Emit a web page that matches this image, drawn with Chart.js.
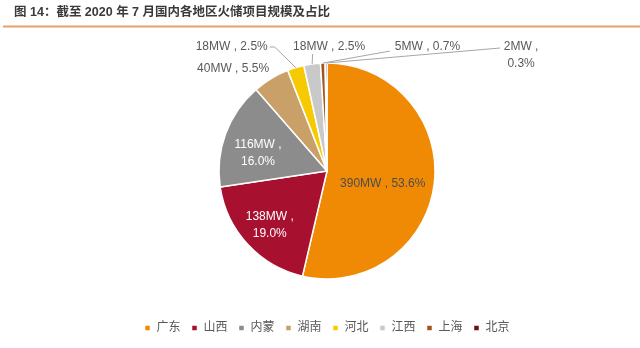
<!DOCTYPE html>
<html>
<head>
<meta charset="utf-8">
<script src="https://cdn.jsdelivr.net/npm/chart.js@4/dist/chart.umd.min.js"></script>
<style>
  html, body { margin: 0; padding: 0; background: #ffffff; }
  canvas { display: block; }
</style>
</head>
<body>
<canvas id="chart" width="640" height="348"></canvas>
<script>
// Thermal-storage projects by region, July 2020 (MW)
const titleText = '图 14：截至 2020 年 7 月国内各地区火储项目规模及占比';
const regions = ['广东', '山西', '内蒙', '湖南', '河北', '江西', '上海', '北京'];
const capacityMW = [390, 138, 116, 40, 18, 18, 5, 2];
const sliceColors = ['#F08A04', '#A8102F', '#8C8C8C', '#C9A067', '#F7C900', '#C9C9C9', '#A1561C', '#6A0F1E'];

const FONT = "'Liberation Sans', Arial, 'Noto Sans CJK SC', sans-serif";
const total = capacityMW.reduce((a, b) => a + b, 0);
const pctText = v => (v / total * 100).toFixed(1) + '%';

// Where each slice's label sits: inside labels use a polar position relative to the
// slice's mid-angle; outside labels hang off the slice's outer edge with a leader line.
const labelLayout = [
  { inside: true, r: 0.53, da: 6.6, color: '#4d4d4d' },
  { inside: true, r: 0.73, da: -0.7, color: '#ffffff', wrap: true },
  { inside: true, r: 0.66, da: -5.6, color: '#ffffff', wrap: true },
  { inside: false, tx: -2, ty: -9.5, align: 'right' },
  { inside: false, path: [[-21, -20.6], [-26, -20.6]], tx: -28, ty: -21, align: 'right' },
  { inside: false, path: [[0.5, -10]], tx: 17, ty: -17.5, align: 'center' },
  { inside: false, path: [[67, -12]], tx: 72, ty: -16.5, align: 'left' },
  { inside: false, path: [[174, -15]], tx: 195, ty: -7.5, align: 'center', wrap: true }
];

const titleRule = {
  id: 'titleRule',
  afterDraw(chart) {
    const ctx = chart.ctx;
    ctx.save();
    ctx.strokeStyle = '#E2A36C';
    ctx.lineWidth = 2;
    ctx.beginPath();
    ctx.moveTo(3, 26.5);
    ctx.lineTo(chart.width, 26.5);
    ctx.stroke();
    ctx.restore();
  }
};

const sliceLabels = {
  id: 'sliceLabels',
  afterDatasetsDraw(chart) {
    const ctx = chart.ctx;
    const meta = chart.getDatasetMeta(0);
    ctx.save();
    ctx.font = '12px ' + FONT;
    ctx.textBaseline = 'middle';
    meta.data.forEach((arc, i) => {
      const spec = labelLayout[i];
      const { x, y, startAngle, endAngle, outerRadius } = arc.getProps(['x', 'y', 'startAngle', 'endAngle', 'outerRadius'], true);
      const mid = (startAngle + endAngle) / 2;
      const v = capacityMW[i];
      const lines = spec.wrap ? [v + 'MW ,', pctText(v)] : [v + 'MW , ' + pctText(v)];
      let px, py;
      if (spec.inside) {
        const a = mid + spec.da * Math.PI / 180;
        px = x + Math.cos(a) * outerRadius * spec.r;
        py = y + Math.sin(a) * outerRadius * spec.r;
        ctx.fillStyle = spec.color;
        ctx.textAlign = 'center';
      } else {
        const ax = x + Math.cos(mid) * outerRadius;
        const ay = y + Math.sin(mid) * outerRadius;
        if (spec.path) {
          ctx.strokeStyle = '#A6A6A6';
          ctx.lineWidth = 1;
          ctx.beginPath();
          ctx.moveTo(ax, ay);
          spec.path.forEach(([dx, dy]) => ctx.lineTo(ax + dx, ay + dy));
          ctx.stroke();
        }
        px = ax + spec.tx;
        py = ay + spec.ty;
        ctx.fillStyle = '#595959';
        ctx.textAlign = spec.align;
      }
      const gap = 17;
      const y0 = py - (lines.length - 1) * gap / 2;
      lines.forEach((t, k) => ctx.fillText(t, px, y0 + k * gap));
    });
    ctx.restore();
  }
};

new Chart(document.getElementById('chart'), {
  type: 'pie',
  data: {
    labels: regions,
    datasets: [{
      data: capacityMW,
      backgroundColor: sliceColors,
      borderColor: '#ffffff',
      borderWidth: 1.5,
      radius: 108
    }]
  },
  options: {
    responsive: false,
    animation: false,
    layout: { padding: { left: 14, right: 0, top: 0, bottom: 4 } },
    plugins: {
      title: {
        display: true,
        text: titleText,
        align: 'start',
        color: '#3a3a3a',
        font: { family: FONT, size: 12.5, weight: 'bold', lineHeight: 1.2 },
        padding: { top: 5, bottom: 11 }
      },
      legend: {
        position: 'bottom',
        labels: {
          usePointStyle: true,
          pointStyle: 'rect',
          boxWidth: 6,
          boxHeight: 6,
          padding: 11,
          color: '#595959',
          font: { family: FONT, size: 12 }
        }
      },
      tooltip: { enabled: false }
    }
  },
  plugins: [titleRule, sliceLabels]
});
</script>
</body>
</html>
